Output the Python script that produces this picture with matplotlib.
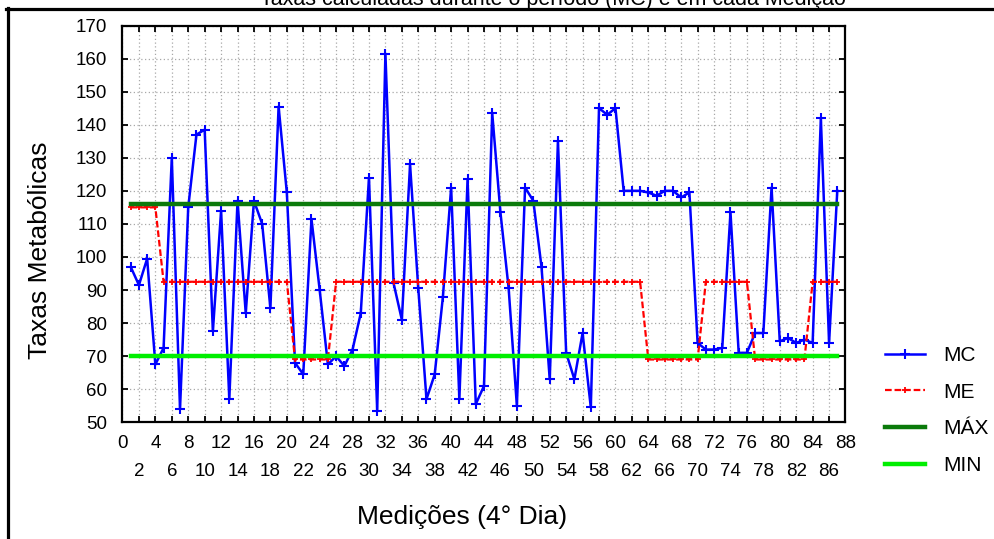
import matplotlib
matplotlib.use("Agg")
import matplotlib.pyplot as plt
from matplotlib.lines import Line2D

# Medições do 4º dia
medicoes = list(range(1, 88))

# MC: taxas metabólicas calculadas em cada medição
mc = [97, 91.5, 99.5, 67.5, 72.5, 130, 54, 115, 137, 138.5,
      77.5, 114, 57, 117, 83, 117, 110, 84.5, 145.5, 119.5,
      68, 64.5, 111.5, 90, 67.5, 70, 67, 72, 83, 124,
      53.5, 161.5, 92, 81, 128, 90.5, 57, 64.5, 88, 121,
      57, 123.5, 55.5, 61, 143.5, 113.5, 90.5, 55, 121, 117,
      97, 63, 135, 71, 63, 77, 54.5, 145, 143, 145,
      120, 120, 120, 119.5, 118.5, 120, 120, 118, 119.5, 74,
      72, 72, 72.5, 113.5, 71, 71, 77, 77, 121, 74.5,
      75.5, 74, 75, 74, 142, 74, 120]

# ME: taxa esperada por período
me = [115] * 4 + [92.5] * 16 + [69] * 5 + [92.5] * 38 + [69] * 7 + \
     [92.5] * 6 + [69] * 7 + [92.5] * 4

# Limites
maximo = 116
minimo = 70

x_major = list(range(0, 89, 4))
x_minor = list(range(2, 88, 4))
y_ticks = list(range(50, 171, 10))

FONT = "Liberation Sans"
W, H = 995, 539

fig = plt.figure(figsize=(W / 100, H / 100), dpi=100)
fig.patch.set_facecolor("white")
ax = fig.add_axes([122.5 / W, 1 - 422.3 / H, (845.5 - 122.5) / W, (422.3 - 25.5) / H])

ax.plot(medicoes, mc, color="#0000ff", lw=1.8, marker="+", ms=7, mew=1.5,
        label="MC", zorder=3)
ax.plot(medicoes, me, color="#ff0000", lw=1.6, ls=(0, (3, 1.3)), marker="+",
        ms=5, mew=1.3, label="ME", zorder=4)
ax.plot(medicoes, [maximo] * len(medicoes), color="#0b7a0b", lw=3.2,
        solid_capstyle="projecting", label="MÁX", zorder=5)
ax.plot(medicoes, [minimo] * len(medicoes), color="#00ee00", lw=3.2,
        solid_capstyle="projecting", label="MIN", zorder=5)

ax.set_xlim(0, 88)
ax.set_ylim(50, 170)

ax.set_xticks(x_major)
ax.set_xticklabels([str(v) for v in x_major], fontfamily=FONT, fontsize=13.5)
ax.set_xticks(x_minor, minor=True)
ax.set_xticklabels([str(v) for v in x_minor], minor=True, fontfamily=FONT, fontsize=13.5)
ax.set_yticks(y_ticks)
ax.set_yticklabels([str(v) for v in y_ticks], fontfamily=FONT, fontsize=13.5)

ax.tick_params(axis="both", which="both", direction="in", length=4, width=1.3,
               top=True, right=True, color="black")
ax.tick_params(axis="x", which="major", pad=9.5)
ax.tick_params(axis="x", which="minor", pad=29)
ax.tick_params(axis="y", which="major", pad=11)

ax.grid(True, axis="x", which="both", color="#a8a8a8", ls=(0, (1, 2)), lw=0.9)
ax.grid(True, axis="y", which="major", color="#a8a8a8", ls=(0, (1, 2)), lw=0.9)
ax.set_axisbelow(True)

for s in ax.spines.values():
    s.set_linewidth(1.6)
    s.set_color("black")

fig.text(462 / W, 1 - 517 / H, "Medições (4° Dia)", ha="center", va="center",
         fontfamily=FONT, fontsize=19)
fig.text(40 / W, 1 - 250 / H, "Taxas Metabólicas", ha="center", va="center",
         rotation=90, fontfamily=FONT, fontsize=19)
fig.text(553 / W, 1 - 4.5 / H, "Taxas calculadas durante o período (MC) e em cada Medição",
         ha="center", va="baseline", fontfamily=FONT, fontsize=15.5)

leg = ax.legend(loc="upper left", bbox_to_anchor=(885 / W, 1 - 346 / H),
                bbox_transform=fig.transFigure, frameon=False,
                prop={"family": FONT, "size": 15}, handlelength=1.9,
                handletextpad=0.9, labelspacing=0.85, borderpad=0, borderaxespad=0)

# moldura externa
fig.add_artist(Line2D([7.7 / W, 7.7 / W], [0, 1 - 7.5 / H], color="black", lw=2.3,
                      transform=fig.transFigure))
fig.add_artist(Line2D([6.5 / W, 1], [1 - 8.7 / H, 1 - 8.7 / H], color="black", lw=2.3,
                      transform=fig.transFigure))

fig.savefig("out.png", dpi=100)
